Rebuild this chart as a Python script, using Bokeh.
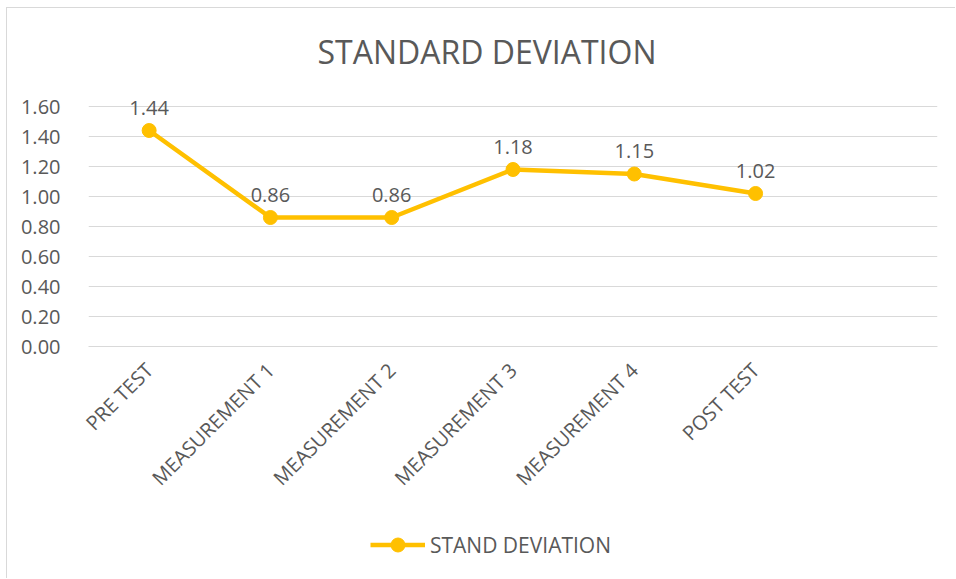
import math
from bokeh.plotting import figure
from bokeh.layouts import column
from bokeh.models import (FactorRange, Range1d, FixedTicker, NumeralTickFormatter,
                          ColumnDataSource, Legend, LegendItem)
from bokeh.embed import file_html
from bokeh.resources import INLINE

# ---- data ----
categories = ["PRE TEST", "MEASUREMENT 1", "MEASUREMENT 2", "MEASUREMENT 3",
              "MEASUREMENT 4", "POST TEST"]
values = [1.44, 0.86, 0.86, 1.18, 1.15, 1.02]
y_ticks = [0.0, 0.2, 0.4, 0.6, 0.8, 1.0, 1.2, 1.4, 1.6]
series_name = "STAND DEVIATION"
title_text = "STANDARD DEVIATION"

factors = categories + [" "]
labels = ["{:.2f}".format(v) for v in values]

FONT = "Open Sans"
TXT = "#595959"
GRID = "#D9D9D9"
GOLD = "#FFC000"

# ---- main chart ----
p = figure(width=949, height=510, x_range=FactorRange(*factors),
           y_range=Range1d(0, 1.8), output_backend="svg", toolbar_location=None,
           min_border_left=81, min_border_right=19, min_border_top=68,
           min_border_bottom=172)
p.styles = {"border-left": "1px solid #D9D9D9", "border-top": "1px solid #D9D9D9"}
p.x_range.range_padding = 0
p.outline_line_color = None

p.title.text = title_text
p.title.align = "left"
p.title.offset = 229
p.title.text_font = FONT
p.title.text_font_size = "32px"
p.title.text_font_style = "normal"
p.title.text_color = TXT
p.title.standoff = 8

p.xgrid.grid_line_color = None
p.ygrid.grid_line_color = GRID
p.ygrid.grid_line_width = 1

p.yaxis.ticker = FixedTicker(ticks=y_ticks)
p.yaxis.formatter = NumeralTickFormatter(format="0.00")
p.yaxis.axis_line_color = None
p.yaxis.major_tick_line_color = None
p.yaxis.minor_tick_line_color = None
p.yaxis.major_label_text_font = FONT
p.yaxis.major_label_text_font_size = "20px"
p.yaxis.major_label_text_color = TXT
p.yaxis.major_label_standoff = 22

p.xaxis.axis_line_color = GRID
p.xaxis.major_tick_line_color = None
p.xaxis.minor_tick_line_color = None
p.xaxis.major_label_orientation = math.pi / 4
p.xaxis.major_label_text_font = FONT
p.xaxis.major_label_text_font_size = "20px"
p.xaxis.major_label_text_color = TXT
p.xaxis.major_label_standoff = 14

src = ColumnDataSource(dict(x=categories, y=values, lab=labels))
p.line("x", "y", source=src, line_color=GOLD, line_width=4.5)
p.scatter("x", "y", source=src, size=14, fill_color=GOLD, line_color=GOLD)
p.text("x", "y", text="lab", source=src, text_align="center",
       text_baseline="alphabetic", y_offset=-23, text_font_size="20px",
       text_color=TXT, text_font={"value": FONT})

# ---- legend strip (series drawn out of view, only its legend shows) ----
p2 = figure(width=949, height=61, x_range=FactorRange(*factors),
            y_range=Range1d(10, 11), output_backend="svg",
            toolbar_location=None, min_border=0)
p2.styles = {"border-left": "1px solid #D9D9D9"}
p2.axis.visible = False
p2.grid.grid_line_color = None
p2.outline_line_color = None
ln2 = p2.line("x", "y", source=src, line_color=GOLD, line_width=4.5)
sc2 = p2.scatter("x", "y", source=src, size=14, fill_color=GOLD, line_color=GOLD)
legend = Legend(items=[LegendItem(label=series_name, renderers=[ln2, sc2])],
                location=(282, 16), orientation="horizontal",
                glyph_width=55, glyph_height=35, label_standoff=5,
                padding=0, margin=0, border_line_color=None,
                background_fill_alpha=0,
                label_text_font=FONT, label_text_font_size="21px",
                label_text_color=TXT)
p2.add_layout(legend, "center")

layout = column(p, p2, spacing=0)
layout.margin = (7, 0, 0, 6)

open("out.html", "w").write(file_html(layout, INLINE))
